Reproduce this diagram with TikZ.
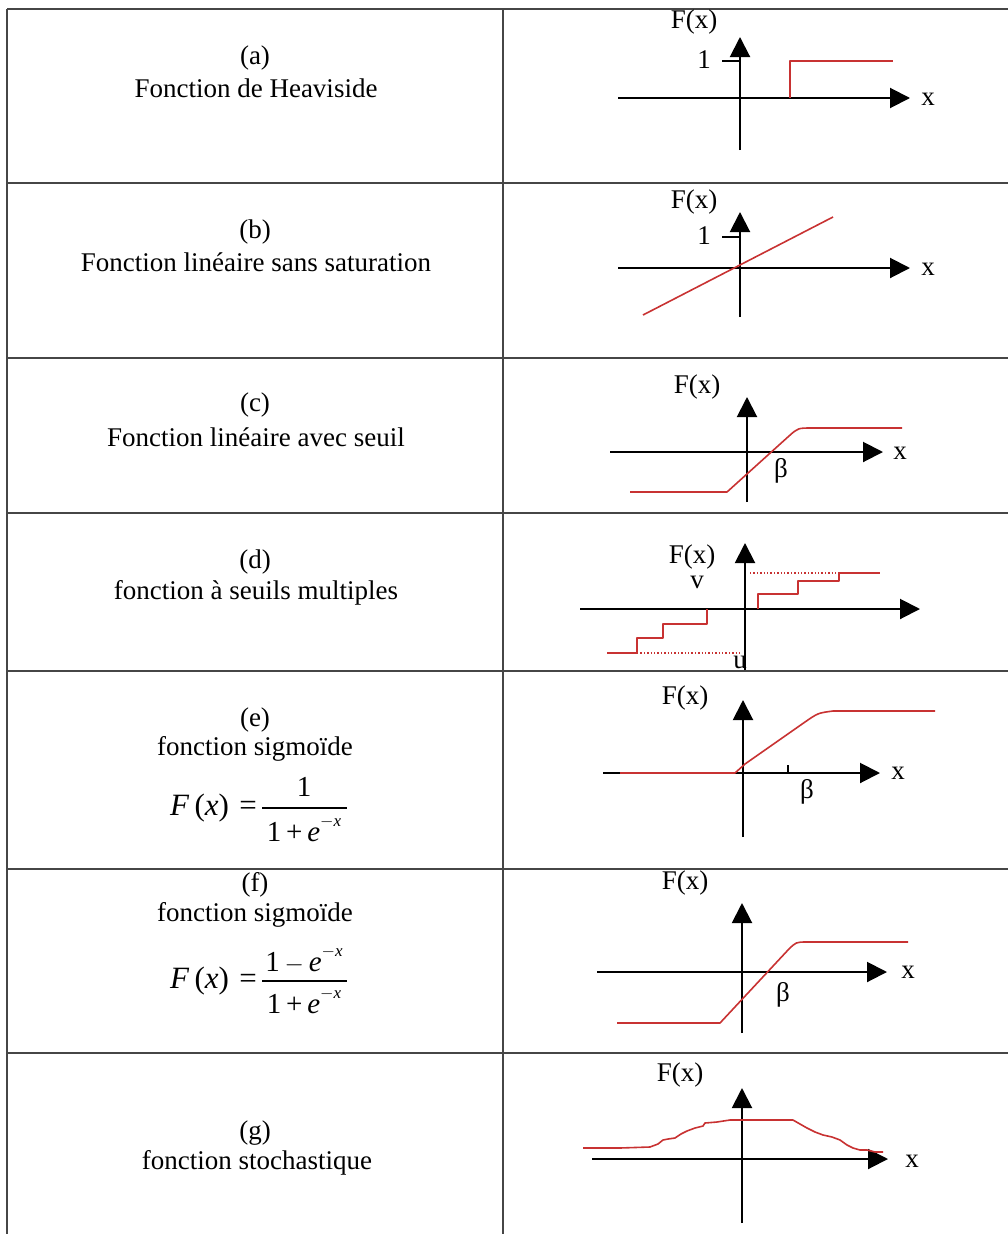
\documentclass[tikz,border=0pt]{standalone}
\usepackage{fontspec}
\setmainfont{Liberation Serif}
\usetikzlibrary{arrows.meta}
\definecolor{fnred}{RGB}{200,50,50}
\definecolor{gridc}{RGB}{70,70,70}
\tikzset{
  gridline/.style={line width=1.8pt, draw=gridc},
  axisarrow/.style={line width=2pt, -{Triangle[length=20pt,width=20pt]}},
  plainline/.style={line width=2pt},
  fn/.style={line width=1.6pt, draw=fnred, line join=round},
  fndot/.style={line width=1.4pt, draw=fnred, dotted},
  txt/.style={font=\fontsize{27}{30}\selectfont, inner sep=0pt},
  fml/.style={font=\fontsize{31}{32}\selectfont, inner sep=0pt},
  frac/.style={font=\fontsize{29}{30}\selectfont, inner sep=0pt},
  lbl/.style={font=\fontsize{27}{30}\selectfont, inner sep=0pt},
}
\newcommand{\expmx}{\textit{e}\raisebox{0.5em}{\fontsize{17}{20}\selectfont$-$\textit{x}}}
\begin{document}
\begin{tikzpicture}[x=1pt,y=-1pt]
\useasboundingbox (0,0) rectangle (1008,1234);
% table
\foreach \yy in {9,183,358,513,671,869,1053}
  \draw[gridline] (7,\yy) -- (1008,\yy);
\draw[gridline] (7,9) -- (7,1234);
\draw[gridline] (503,9) -- (503,1234);

% left column texts
\node[txt] (la) at (255,58) {(a)};
\node[txt] (ta) at (256,88) {Fonction de Heaviside};
\node[txt] (lb) at (255,232) {(b)};
\node[txt] (tb) at (256,262) {Fonction linéaire sans saturation};
\node[txt] (lc) at (255,405) {(c)};
\node[txt] (tc) at (256,437) {Fonction linéaire avec seuil};
\node[txt] (ld) at (255,562) {(d)};
\node[txt] (td) at (256,593) {fonction à seuils multiples};
\node[txt] (le) at (255,720) {(e)};
\node[txt] (te) at (255,749) {fonction sigmoïde};
\node[txt] (lf) at (255,885) {(f)};
\node[txt] (tf) at (255,915) {fonction sigmoïde};
\node[txt] (lg) at (255,1133) {(g)};
\node[txt] (tg) at (257,1163) {fonction stochastique};

% formula (e)
\node[fml, anchor=east] (fe) at (257,808) {\textit{F}\,(\textit{x})\,\,=};
\draw[line width=1.3pt] (262,808) -- (347,808);
\node[frac] (ne) at (304,787) {1};
\node[frac] (de) at (304,829) {1\,+\,\expmx};
% formula (f)
\node[fml, anchor=east] (ff) at (257,981) {\textit{F}\,(\textit{x})\,\,=};
\draw[line width=1.3pt] (262,981) -- (347,981);
\node[frac] (nf) at (304,960) {1\,$-$\,\expmx};
\node[frac] (df) at (304,1001) {1\,+\,\expmx};

% ---------- (a) Heaviside
\draw[axisarrow] (740,150) -- (740,37);
\draw[axisarrow] (618,98) -- (910,98);
\draw[plainline] (722,61) -- (740,61);
\node[lbl] (Fa) at (694,22) {F(x)};
\node[lbl] (oa) at (704,60) {1};
\node[lbl] (xa) at (928,99) {x};
\draw[fn] (790,98) -- (790,61) -- (893,61);

% ---------- (b) linear
\draw[axisarrow] (740,317) -- (740,212);
\draw[axisarrow] (618,268) -- (910,268);
\draw[plainline] (722,237) -- (740,237);
\node[lbl] (Fb) at (694,202) {F(x)};
\node[lbl] (ob) at (704,236) {1};
\node[lbl] (xb) at (928,269) {x};
\draw[fn] (643,315) -- (833,217);

% ---------- (c) linear with threshold
\draw[axisarrow] (747,502) -- (747,397);
\draw[axisarrow] (610,452) -- (883,452);
\node[lbl] (Fc) at (697,387) {F(x)};
\node[lbl] (xc) at (900,453) {x};
\node[lbl] (bc) at (781,471) {β};
\draw[fn] (630,492) -- (727,492) -- (789,436) .. controls (798,428) .. (812,428) -- (902,428);

% ---------- (d) multiple thresholds
\draw[axisarrow] (745,670) -- (745,543);
\draw[axisarrow] (580,609) -- (920,609);
\node[lbl] (Fd) at (692,557) {F(x)};
\node[lbl] (vd) at (697,582) {v};
\node[lbl] (ud) at (740,662) {u};
\draw[fn] (607,653) -- (637,653) -- (637,638) -- (663,638) -- (663,624) -- (707,624) -- (707,609);
\draw[fndot] (637,653) -- (742,653);
\draw[fn] (758,609) -- (758,594) -- (798,594) -- (798,581) -- (839,581) -- (839,573) -- (880,573);
\draw[fndot] (750,573) -- (839,573);

% ---------- (e) sigmoid
\draw[axisarrow] (743,837) -- (743,700);
\draw[axisarrow] (603,773) -- (880,773);
\draw[plainline] (788,765) -- (788,773);
\node[lbl] (Fe) at (685,698) {F(x)};
\node[lbl] (xe) at (898,773) {x};
\node[lbl] (be) at (807,792) {β};
\draw[fn] (620,773) -- (735,773) -- (745,764) -- (805,722) .. controls (818,713) .. (833,711) -- (935,711);

% ---------- (f) sigmoid
\draw[axisarrow] (742,1033) -- (742,903);
\draw[axisarrow] (597,972) -- (887,972);
\node[lbl] (Ff) at (685,883) {F(x)};
\node[lbl] (xf) at (908,972) {x};
\node[lbl] (bf) at (783,995) {β};
\draw[fn] (617,1023) -- (720,1023) -- (788,950) .. controls (796,942) .. (807,942) -- (908,942);

% ---------- (g) stochastic
\draw[axisarrow] (742,1223) -- (742,1088);
\draw[axisarrow] (592,1159) -- (888,1159);
\node[lbl] (Fg) at (680,1075) {F(x)};
\node[lbl] (xg) at (912,1161) {x};
\draw[fn] (583,1148) -- (620,1148) -- (650,1147) -- (658,1144) -- (663,1140) -- (668,1139) -- (675,1138)
  -- (681,1134) -- (687,1131) -- (695,1128) -- (703,1126) -- (705,1123) -- (717,1122) -- (730,1120)
  -- (742,1120) -- (793,1120) -- (800,1124) -- (807,1128) -- (815,1132) -- (823,1135) -- (832,1137)
  -- (840,1140) -- (847,1145) -- (853,1148) -- (860,1150) -- (867,1150) -- (875,1152) -- (883,1152);
\end{tikzpicture}
\end{document}
